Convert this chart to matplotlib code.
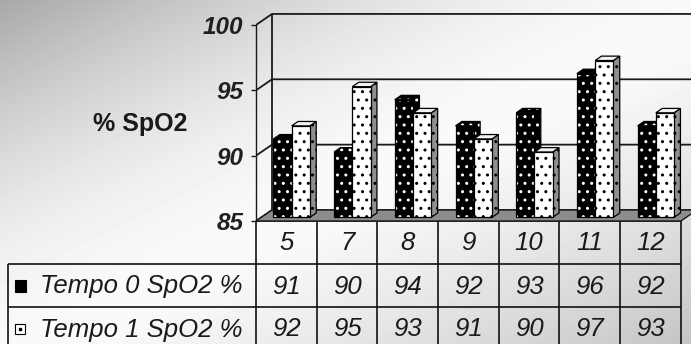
import numpy as np
import matplotlib.pyplot as plt
from matplotlib.patches import Polygon, Rectangle

# ---- data ----
categories = ['5', '7', '8', '9', '10', '11', '12']
tempo0 = [91, 90, 94, 92, 93, 96, 92]
tempo1 = [92, 95, 93, 91, 90, 97, 93]
series_names = ['Tempo 0 SpO2 %', 'Tempo 1 SpO2 %']
y_ticks = [85, 90, 95, 100]
y_min, y_max = 85, 100
y_label = '% SpO2'

# ---- layout (pixels) ----
W, H = 691, 344
x_front = 256          # left edge of the front plane / data table
col_w = 60.7           # width of one category column
y_base = 221           # front edge of the floor
px_per_unit = 13.07    # vertical pixels per % SpO2
depth_px = (16, 11)    # wall depth offset (right, up)
row_h = 43             # data-table row height
bar_w = 0.30           # bar width in column units
bar_pos = 0.33         # depth position of the bar front face (fraction of wall depth)
bar_depth = 0.40       # bar depth (fraction of wall depth)

plt.rcParams['font.family'] = ['Liberation Sans', 'DejaVu Sans']

fig = plt.figure(figsize=(W / 100, H / 100), dpi=100)

# ---- background gradient ----
bg = fig.add_axes([0, 0, 1, 1], zorder=0)
xx, yy = np.meshgrid(np.linspace(0, 1, W), np.linspace(0, 1, H))
t = (xx + yy) / 2
shade = np.where(t < 0.55,
                 0.66 + 0.32 * np.sin(np.clip(t / 0.55, 0, 1) * np.pi / 2),
                 0.98 - 0.21 * ((t - 0.55) / 0.45) ** 1.2)
bg.imshow(shade, cmap='gray', vmin=0, vmax=1, aspect='auto', interpolation='bilinear')
bg.axis('off')

# ---- chart axes (value units) ----
ax = fig.add_axes([x_front / W, (H - y_base) / H, (W - x_front) / W, y_base / H], zorder=2)
ax.set_xlim(0, (W - x_front) / col_w)
ax.set_ylim(y_min, y_min + y_base / px_per_unit)
ax.patch.set_visible(False)

n = len(categories)
dx = depth_px[0] / col_w
dy = depth_px[1] / px_per_unit
line_kw = dict(color='#1a1a1a', lw=1.3, solid_capstyle='butt')

# walls and gridlines
for v in y_ticks:
    ax.plot([0, dx, n + dx], [v, v + dy, v + dy], **line_kw, zorder=1)
ax.plot([dx, dx], [y_min + dy, y_max + dy], **line_kw, zorder=1)

# front value axis
for s in ['top', 'right', 'bottom']:
    ax.spines[s].set_visible(False)
ax.spines['left'].set_bounds(y_min, y_max)
ax.spines['left'].set_linewidth(1.0)
ax.spines['left'].set_color('#1a1a1a')
ax.set_xticks([])
ax.set_yticks(y_ticks)
ax.tick_params(axis='y', direction='out', length=3.6, width=1.0, pad=5.5, colors='#1a1a1a')
for lab in ax.get_yticklabels():
    lab.set_fontsize(17.5)
    lab.set_fontweight('bold')
    lab.set_fontstyle('italic')
    lab.set_color('#202020')

# floor
ax.add_patch(Polygon([(0, y_min), (n, y_min), (n + dx, y_min + dy), (dx, y_min + dy)],
                     closed=True, facecolor='#8c8c8c', edgecolor='#1a1a1a', lw=1.0,
                     zorder=2, clip_on=False))

z = [3]


def face(pts, fc, dot_color):
    ax.add_patch(Polygon(pts, closed=True, facecolor=fc, edgecolor='none', lw=0, zorder=z[0]))
    if dot_color is not None:
        ax.add_patch(Polygon(pts, closed=True, fill=False, edgecolor=dot_color,
                             hatch='..', lw=0, zorder=z[0]))
    ax.add_patch(Polygon(pts, closed=True, fill=False, edgecolor='black', lw=0.9,
                         zorder=z[0], joinstyle='miter'))
    z[0] += 1


def bar3d(x0, x1, value, front_fc, front_dots, top_fc, top_dots, side_fc, side_dots):
    sx, sy = bar_pos * dx, bar_pos * dy
    bx, by = bar_depth * dx, bar_depth * dy
    a, b = x0 + sx, x1 + sx
    lo, hi = y_min + sy, value + sy
    face([(b, lo), (b + bx, lo + by), (b + bx, hi + by), (b, hi)], side_fc, side_dots)
    face([(a, hi), (b, hi), (b + bx, hi + by), (a + bx, hi + by)], top_fc, top_dots)
    face([(a, lo), (b, lo), (b, hi), (a, hi)], front_fc, front_dots)


for i in range(n):
    c = i + 0.5
    bar3d(c - bar_w, c, tempo0[i], 'black', 'white', 'black', 'white', 'black', 'white')
    bar3d(c, c + bar_w, tempo1[i], 'white', 'black', '#f2f2f2', None, '#8f8f8f', 'black')

# axis title
fig.text(140 / W, 1 - 124 / H, y_label, ha='center', va='center',
         fontsize=18, fontweight='bold', color='#1a1a1a')

# ---- data table (pixel units) ----
tab = fig.add_axes([0, 0, 1, 1], zorder=1)
tab.set_xlim(0, W)
tab.set_ylim(H, 0)
tab.axis('off')
tab.patch.set_visible(False)

tline = dict(color='#111111', lw=1.2, solid_capstyle='butt')
x_right = x_front + n * col_w
x_left = 8
for k in range(n + 1):
    xk = x_front + k * col_w
    tab.plot([xk, xk], [y_base, H + 10], **tline)
tab.plot([x_front, x_right], [y_base, y_base], **tline)
for r in (1, 2):
    yr = y_base + r * row_h
    tab.plot([x_left, x_right], [yr, yr], **tline)
tab.plot([x_left, x_left], [y_base + row_h, H + 10], **tline)

txt_kw = dict(fontsize=18.5, fontstyle='italic', color='#1a1a1a', ha='center', va='center')
for k, cat in enumerate(categories):
    xc = x_front + (k + 0.5) * col_w
    tab.text(xc, y_base + 0.5 * row_h + 1, cat, **txt_kw)
    tab.text(xc, y_base + 1.5 * row_h + 1, str(tempo0[k]), **txt_kw)
    tab.text(xc, y_base + 2.5 * row_h + 1, str(tempo1[k]), **txt_kw)

for r, name in enumerate(series_names):
    yc = y_base + (r + 1.5) * row_h
    if r == 0:
        tab.add_patch(Rectangle((15, yc - 6), 11, 12, facecolor='black', edgecolor='black', lw=0.8))
    else:
        tab.add_patch(Rectangle((15, yc - 5), 10, 10, facecolor='white', edgecolor='black', lw=0.8))
        tab.plot([20], [yc], marker='s', ms=1.5, color='black')
    tab.text(40, yc + 1, name, fontsize=18.5, fontstyle='italic', color='#1a1a1a',
             ha='left', va='center')

fig.savefig('out.png', dpi=100)
